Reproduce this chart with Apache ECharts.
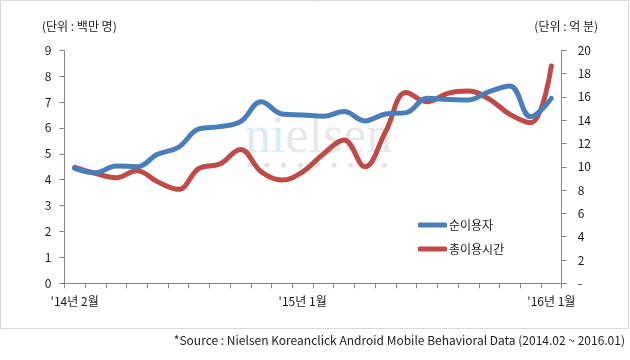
<!DOCTYPE html>
<html>
<head>
<meta charset="utf-8">
<script src="https://cdn.jsdelivr.net/npm/echarts@6/dist/echarts.min.js"></script>
<style>
html,body{margin:0;padding:0;background:#fff;}
#c{width:630px;height:360px;}
</style>
</head>
<body>
<div id="c"></div>
<script>
var categories = ["'14년 2월","3월","4월","5월","6월","7월","8월","9월","10월","11월","12월","'15년 1월","2월","3월","4월","5월","6월","7월","8월","9월","10월","11월","12월","'16년 1월"];
var users = [4.44, 4.27, 4.53, 4.5, 4.98, 5.25, 5.96, 6.05, 6.24, 7.01, 6.54, 6.5, 6.45, 6.63, 6.27, 6.54, 6.59, 7.14, 7.1, 7.08, 7.4, 7.62, 6.43, 7.14];
var usageTime = [9.95, 9.43, 9.06, 9.66, 8.71, 8.06, 9.86, 10.23, 11.49, 9.57, 8.86, 9.57, 11.1, 12.3, 10.0, 13.0, 16.36, 15.58, 16.3, 16.5, 15.8, 14.5, 13.78, 18.65];
var labelIdx = [0, 11, 23];
var seriesNames = ['순이용자', '총이용시간'];

var font = "'Noto Sans CJK KR', sans-serif";
var axisColor = '#868686';
var textColor = '#1a1a1a';

var chart = echarts.init(document.getElementById('c'), null, {renderer: 'canvas'});

var dots = [];
for (var k = 0; k < 9; k++) {
  dots.push({type: 'circle', shape: {cx: 250 + k * 16.8, cy: 165, r: 2.6}, style: {fill: '#e3e3e3'}, z: -1, silent: true});
}

chart.setOption({
  animation: false,
  textStyle: {fontFamily: font},
  grid: {left: 64.3, right: 68.3, top: 50.2, bottom: 76.7, containLabel: false},
  graphic: [
    {type: 'rect', shape: {x: 0.5, y: 0.5, width: 628, height: 328}, style: {fill: 'none', stroke: '#d9d9d9', lineWidth: 1}, z: -2, silent: true},
    {type: 'text', left: 245, top: 112, z: -1, silent: true,
      style: {text: '{a|ni}{b|elsen}', rich: {
        a: {fill: '#d8ebf6', fontFamily: "'Liberation Serif', serif", fontSize: 52},
        b: {fill: '#e8e8e8', fontFamily: "'Liberation Serif', serif", fontSize: 52}
      }}},
    {type: 'group', children: dots},
    {type: 'text', left: 42, top: 20, style: {text: '(단위 : 백만 명)', fill: textColor, font: '12px ' + font}},
    {type: 'text', right: 32, top: 20, style: {text: '(단위 : 억 분)', fill: textColor, font: '12px ' + font}},
    {type: 'text', right: 5, top: 334, style: {text: '*Source : Nielsen Koreanclick Android Mobile Behavioral Data (2014.02 ~ 2016.01)', fill: '#222', font: '12px ' + font}}
  ],
  legend: {
    orient: 'vertical', left: 418, top: 219, padding: 0,
    itemWidth: 29, itemHeight: 5, itemGap: 12, icon: 'roundRect',
    textStyle: {fontSize: 12, color: textColor, fontFamily: font, padding: [0, 0, 0, -3]},
    data: seriesNames
  },
  xAxis: {
    type: 'category', data: categories, boundaryGap: true,
    axisLine: {lineStyle: {color: axisColor, width: 1}},
    axisTick: {show: true, interval: 0, length: 5, inside: false, lineStyle: {color: axisColor}},
    axisLabel: {
      interval: function (i) { return labelIdx.indexOf(i) >= 0; },
      color: textColor, fontSize: 12, margin: 12, fontFamily: font
    },
    splitLine: {show: false}
  },
  yAxis: [
    {type: 'value', min: 0, max: 9, interval: 1,
      axisLine: {show: true, lineStyle: {color: axisColor}},
      axisTick: {show: true, length: 5, lineStyle: {color: axisColor}},
      axisLabel: {color: textColor, fontSize: 12, margin: 13, fontFamily: font},
      splitLine: {show: false}},
    {type: 'value', min: 0, max: 20, interval: 2, position: 'right',
      axisLine: {show: true, lineStyle: {color: axisColor}},
      axisTick: {show: true, length: 5, lineStyle: {color: axisColor}},
      axisLabel: {color: textColor, fontSize: 12, margin: 16, fontFamily: font,
        formatter: function (v) { return v === 0 ? '-' : String(v); }},
      splitLine: {show: false}}
  ],
  series: [
    {name: seriesNames[0], type: 'line', yAxisIndex: 0, data: users, smooth: 0.4, showSymbol: false, symbol: 'none',
      lineStyle: {color: '#4a7ebb', width: 5, cap: 'round'}, itemStyle: {color: '#4a7ebb'}, z: 3},
    {name: seriesNames[1], type: 'line', yAxisIndex: 1, data: usageTime, smooth: 0.4, showSymbol: false, symbol: 'none',
      lineStyle: {color: '#be4b48', width: 5, cap: 'round'}, itemStyle: {color: '#be4b48'}, z: 2}
  ]
});
</script>
</body>
</html>
